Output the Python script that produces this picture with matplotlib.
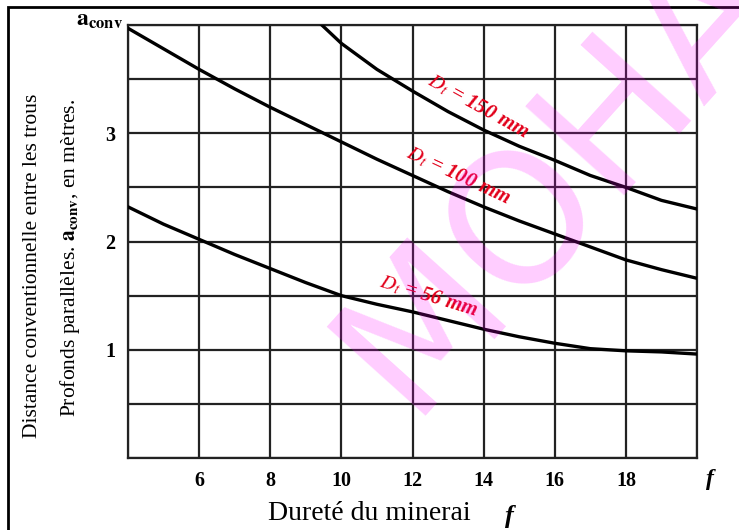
import matplotlib
matplotlib.use("Agg")
import matplotlib.pyplot as plt
from matplotlib.patches import Rectangle

plt.rcParams['font.family'] = ['Liberation Serif', 'DejaVu Serif']
plt.rcParams['mathtext.fontset'] = 'stix'

# dureté f
f_56 = [4, 5, 6, 7, 8, 9, 10, 11, 12, 13, 14, 15, 16, 17, 18, 19, 20]
a_56 = [2.32, 2.16, 2.02, 1.88, 1.75, 1.62, 1.50, 1.42, 1.35, 1.27, 1.19, 1.12, 1.06, 1.01, 0.99, 0.98, 0.96]

f_100 = [4, 5, 6, 7, 8, 9, 10, 11, 12, 13, 14, 15, 16, 17, 18, 19, 20]
a_100 = [3.97, 3.78, 3.59, 3.41, 3.24, 3.08, 2.92, 2.76, 2.61, 2.46, 2.32, 2.19, 2.07, 1.95, 1.83, 1.74, 1.66]

f_150 = [9.45, 10, 11, 12, 13, 14, 15, 16, 17, 18, 19, 20]
a_150 = [4.0, 3.83, 3.59, 3.39, 3.20, 3.03, 2.88, 2.75, 2.61, 2.50, 2.38, 2.30]

x_ticks = [6, 8, 10, 12, 14, 16, 18]
y_ticks = [1, 2, 3]

# étiquettes des courbes : texte, f, a, angle
labels = [("$D_t$ = 150 mm", 13.85, 3.25, -29),
          ("$D_t$ = 100 mm", 13.3, 2.61, -25),
          ("$D_t$ = 56 mm", 12.45, 1.49, -17)]

fig = plt.figure(figsize=(7.39, 5.30), dpi=100)
ax = fig.add_axes([128/739, 1-458/530, (697-128)/739, (458-25)/530])

# grille
for x in range(4, 21, 2):
    ax.axvline(x, color='#222222', lw=1.6, zorder=1)
for k in range(0, 9):
    ax.axhline(k*0.5, color='#222222', lw=1.6, zorder=1)

ax.plot(f_56, a_56, color='black', lw=2.4, zorder=3)
ax.plot(f_100, a_100, color='black', lw=2.4, zorder=3)
ax.plot(f_150, a_150, color='black', lw=2.4, zorder=3)

for txt, x, y, rot in labels:
    ax.text(x, y, txt, color='#e2001a', fontsize=15, fontweight='bold', style='italic',
            rotation=rot, ha='center', va='center', rotation_mode='anchor', zorder=4)

ax.set_xlim(4, 20)
ax.set_ylim(0, 4)
ax.set_xticks(x_ticks)
ax.set_yticks(y_ticks)
ax.tick_params(length=0, labelsize=14.5, pad=9)
for t in ax.get_xticklabels() + ax.get_yticklabels():
    t.set_fontweight('bold')
for s in ax.spines.values():
    s.set_linewidth(1.6)
    s.set_color('#222222')

# "f" au bout de l'axe et a_conv en haut
ax.text(20.35, -0.2, "f", fontsize=17, fontweight='bold', style='italic', ha='center', va='center')
fig.text(123/739, 1-21/530, r"$\mathbf{a_{conv}}$", fontsize=17, ha='right', va='center')

# titres des axes
fig.text(33/739, 1-266/530, "Distance conventionnelle entre les trous", rotation=90,
         fontsize=15.5, ha='center', va='center')
fig.text(70/739, 1-258/530, r"Profonds parallèles. $\mathbf{a_{conv}}$, en mètres.", rotation=90,
         fontsize=15.5, ha='center', va='center')
fig.text(369/739, 1-514/530, "Dureté du minerai", fontsize=20, ha='center', va='center')
fig.text(509/739, 1-516/530, "f", fontsize=19, fontweight='bold', style='italic', ha='center', va='center')

# cadre
fig.patches.append(Rectangle((8/739, -0.1), 1.2, 1-7/530+0.1, transform=fig.transFigure,
                             fill=False, edgecolor='black', lw=2))

# filigrane
fig.text(557/739, 1-176/530, "MOHA", fontsize=130, color='#ff00ff', alpha=0.2,
         fontfamily='DejaVu Sans', rotation=48, ha='center', va='center', zorder=10)

fig.savefig("out.png", dpi=100)
